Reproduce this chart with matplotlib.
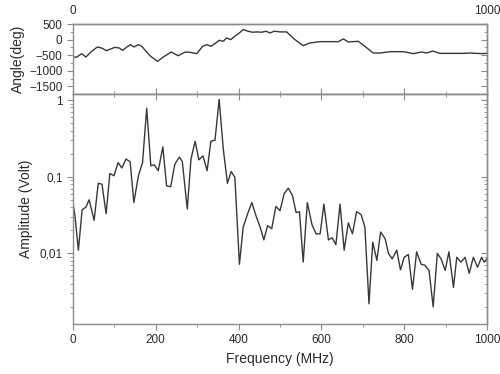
import matplotlib
matplotlib.use("Agg")
import matplotlib.pyplot as plt
from matplotlib.ticker import FixedLocator, MultipleLocator, LogLocator, NullFormatter, FixedFormatter

plt.rcParams['font.family'] = ['Liberation Sans', 'DejaVu Sans']

# Amplitude spectrum (lower panel)
amp_freq = [0, 5, 13, 22, 31, 39, 51, 61, 70, 80, 89, 99, 109, 118, 128, 138, 147, 158, 168, 178,
            188, 196, 206, 217, 226, 236, 246, 257, 264, 276, 285, 295, 304, 314, 324, 333, 343, 353,
            363, 373, 382, 391, 402, 411, 422, 432, 442, 452, 461, 470, 480, 490, 500, 510, 520, 530,
            539, 547, 556, 566, 577, 587, 597, 606, 617, 626, 635, 645, 655, 665, 675, 685, 696, 705,
            715, 724, 734, 743, 754, 762, 771, 782, 791, 800, 810, 820, 830, 841, 850, 860, 870, 880,
            889, 899, 908, 919, 927, 937, 947, 957, 967, 977, 987, 993, 1000]
amp_volt = [0.046, 0.030, 0.011, 0.037, 0.040, 0.050, 0.027, 0.082, 0.080, 0.033, 0.110, 0.103, 0.153,
            0.130, 0.170, 0.157, 0.046, 0.103, 0.153, 0.78, 0.139, 0.143, 0.120, 0.245, 0.076, 0.074,
            0.146, 0.180, 0.158, 0.038, 0.170, 0.290, 0.166, 0.187, 0.120, 0.290, 0.300, 1.02, 0.23,
            0.082, 0.117, 0.098, 0.0072, 0.022, 0.033, 0.046, 0.031, 0.022, 0.015, 0.023, 0.021, 0.041,
            0.036, 0.060, 0.071, 0.057, 0.034, 0.035, 0.0077, 0.046, 0.024, 0.018, 0.018, 0.044, 0.015,
            0.016, 0.013, 0.044, 0.011, 0.025, 0.018, 0.035, 0.032, 0.022, 0.0022, 0.014, 0.0081, 0.019,
            0.0155, 0.010, 0.0085, 0.011, 0.0061, 0.0089, 0.0097, 0.0034, 0.0105, 0.0072, 0.0070, 0.0060,
            0.0020, 0.010, 0.0085, 0.0060, 0.0105, 0.0036, 0.0089, 0.0077, 0.0089, 0.0055, 0.0089, 0.0066,
            0.0089, 0.0077, 0.0085]

# Phase angle (upper panel)
ang_freq = [0, 9, 21, 31, 45, 59, 69, 81, 91, 101, 112, 120, 130, 139, 147, 158, 166, 186, 204, 218,
            237, 254, 271, 283, 299, 313, 323, 333, 343, 353, 363, 371, 381, 391, 402, 411, 423, 434,
            444, 456, 466, 476, 486, 500, 516, 536, 556, 572, 597, 621, 641, 653, 665, 689, 705, 725,
            742, 766, 798, 822, 842, 854, 869, 886, 911, 943, 959, 975, 987, 1000]
ang_deg = [-560, -560, -450, -560, -375, -236, -270, -355, -300, -248, -270, -345, -236, -161, -236,
           -161, -215, -516, -700, -560, -397, -516, -397, -408, -450, -215, -161, -215, -129, -22,
           -54, 54, 0, 107, 215, 323, 269, 237, 248, 237, 269, 215, 269, 248, 248, 0, -194, -108,
           -65, -65, -65, 22, -75, -54, -215, -430, -430, -387, -387, -450, -397, -430, -365, -441,
           -441, -441, -430, -441, -450, -440]

amp_yticks = [1, 0.1, 0.01]
amp_yticklabels = ['1', '0,1', '0,01']
freq_ticks = [0, 200, 400, 600, 800, 1000]
ang_yticks = [500, 0, -500, -1000, -1500]

line_color = '#383838'
spine_color = '#8c8c8c'
text_color = '#2a2a2a'
tick_fs = 8.5
label_fs = 10

fig = plt.figure(figsize=(5.0, 3.74), dpi=100)
ax_top = fig.add_axes([0.146, 0.7487, 0.828, 0.187])
ax_bot = fig.add_axes([0.146, 0.1337, 0.828, 0.615])

# ---- lower panel
ax_bot.plot(amp_freq, amp_volt, color=line_color, lw=1.0)
ax_bot.set_yscale('log')
ax_bot.set_xlim(0, 1000)
ax_bot.set_ylim(0.0012, 1.2)
ax_bot.yaxis.set_minor_locator(LogLocator(base=10, subs=range(2, 10)))
ax_bot.yaxis.set_minor_formatter(NullFormatter())
ax_bot.set_yticks(amp_yticks)
ax_bot.set_yticklabels(amp_yticklabels)
ax_bot.set_xticks(freq_ticks)
ax_bot.xaxis.set_minor_locator(MultipleLocator(100))
ax_bot.tick_params(axis='both', which='both', direction='out', colors=spine_color,
                   labelcolor=text_color, labelsize=tick_fs)
ax_bot.tick_params(which='major', length=4)
ax_bot.tick_params(which='minor', length=2.5)
ax_bot.set_xlabel('Frequency (MHz)', fontsize=label_fs, color=text_color, labelpad=4)
ax_bot.set_ylabel('Amplitude (Volt)', fontsize=label_fs, color=text_color, labelpad=5)

# secondary ticks on right/top (inward)
axr = ax_bot.secondary_yaxis('right')
axr.set_yticks(amp_yticks)
axr.yaxis.set_minor_locator(LogLocator(base=10, subs=range(2, 10)))
axr.yaxis.set_minor_formatter(NullFormatter())
axr.set_yticklabels([])
axr.tick_params(axis='y', which='both', direction='in', colors=spine_color)
axr.tick_params(which='major', length=4)
axr.tick_params(which='minor', length=2.5)
axt = ax_bot.secondary_xaxis('top')
axt.set_xticks(freq_ticks)
axt.xaxis.set_minor_locator(MultipleLocator(100))
axt.set_xticklabels([])
axt.tick_params(axis='x', which='both', direction='in', colors=spine_color)
axt.tick_params(which='major', length=4)
axt.tick_params(which='minor', length=2.5)

# ---- upper panel
ax_top.plot(ang_freq, ang_deg, color=line_color, lw=1.0)
ax_top.set_xlim(0, 1000)
ax_top.set_ylim(-1745, 500)
ax_top.set_yticks(ang_yticks)
ax_top.yaxis.set_minor_locator(MultipleLocator(250))
ax_top.set_xticks(freq_ticks)
ax_top.xaxis.set_minor_locator(MultipleLocator(100))
ax_top.tick_params(axis='x', which='both', direction='in', labelbottom=False,
                   colors=spine_color, top=False)
ax_top.tick_params(axis='y', which='both', direction='out', colors=spine_color,
                   labelcolor=text_color, labelsize=tick_fs)
ax_top.tick_params(which='major', length=4)
ax_top.tick_params(which='minor', length=2.5)
ax_top.set_ylabel('Angle(deg)', fontsize=label_fs, color=text_color, labelpad=3)
axr2 = ax_top.secondary_yaxis('right')
axr2.set_yticks(ang_yticks)
axr2.yaxis.set_minor_locator(MultipleLocator(250))
axr2.set_yticklabels([])
axr2.tick_params(axis='y', which='both', direction='in', colors=spine_color)
axr2.tick_params(which='major', length=4)
axr2.tick_params(which='minor', length=2.5)
axt2 = ax_top.secondary_xaxis('top')
axt2.set_xticks([0, 1000])
axt2.set_xticklabels(['0', '1000'])
axt2.tick_params(axis='x', length=0, labelsize=tick_fs, labelcolor=text_color, pad=5)

for a in (ax_top, ax_bot, axr, axt, axr2, axt2):
    for s in a.spines.values():
        s.set_color(spine_color)
        s.set_linewidth(1.0)

fig.savefig('out.png', dpi=100)
